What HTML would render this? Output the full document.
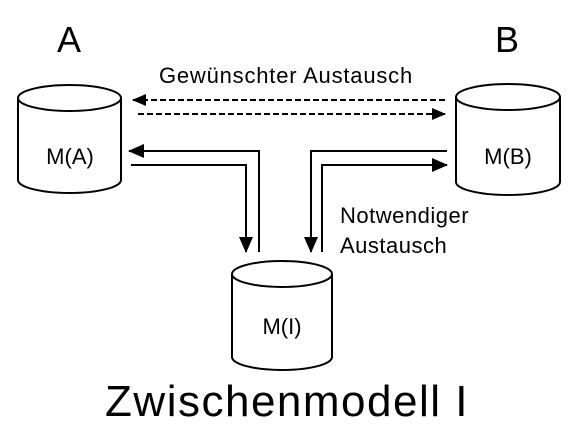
<!DOCTYPE html>
<html><head><style>
body{margin:0;background:#fff;}
svg{display:block;font-family:"Liberation Sans","DejaVu Sans",sans-serif;}
</style></head><body>
<svg width="577" height="436" viewBox="0 0 577 436">
<defs>
<marker id="ah" markerWidth="14" markerHeight="12" refX="13" refY="6" orient="auto" markerUnits="userSpaceOnUse"><path d="M0,0 L14,6 L0,12 Z" fill="#000"/></marker>
<marker id="ab" markerWidth="16" markerHeight="14" refX="15" refY="7" orient="auto" markerUnits="userSpaceOnUse"><path d="M0,0 L16,7 L0,14 Z" fill="#000"/></marker>
</defs>
<g fill="#fff" stroke="#000" stroke-width="2">
<path d="M18,98 L18,180 A51.5,13 0 0 0 121,180 L121,98"/>
<ellipse cx="69.5" cy="98" rx="51.5" ry="13"/>
<path d="M456,97 L456,182 A52,13 0 0 0 560,182 L560,97"/>
<ellipse cx="508" cy="97" rx="52" ry="13"/>
<path d="M232,274 L232,357 A50,13 0 0 0 332,357 L332,274"/>
<ellipse cx="282" cy="274" rx="50" ry="13"/>
</g>
<g stroke="#000" stroke-width="2" fill="none">
<line x1="445" y1="100" x2="133" y2="100" stroke-dasharray="6,3" marker-end="url(#ah)"/>
<line x1="138" y1="114" x2="445" y2="114" stroke-dasharray="6,3" marker-end="url(#ah)"/>
<polyline points="259,252 259,151 129,151" marker-end="url(#ab)"/>
<polyline points="131,165 246,165 246,252" marker-end="url(#ab)"/>
<polyline points="447,151 311,151 311,252" marker-end="url(#ab)"/>
<polyline points="322,252 322,165 447,165" marker-end="url(#ab)"/>
</g>
<g fill="#000">
<text x="69" y="52" font-size="36" text-anchor="middle">A</text>
<text x="507" y="52" font-size="36" text-anchor="middle">B</text>
<text x="286" y="83" font-size="22" letter-spacing="0.8" text-anchor="middle">Gewünschter Austausch</text>
<text x="70" y="164" font-size="22" text-anchor="middle">M(A)</text>
<text x="508" y="164" font-size="22" text-anchor="middle">M(B)</text>
<text x="282" y="334" font-size="22" text-anchor="middle">M(I)</text>
<text x="340" y="223" font-size="22" letter-spacing="0.5">Notwendiger</text>
<text x="340" y="253" font-size="22" letter-spacing="0.5">Austausch</text>
<text x="287" y="416" font-size="44" letter-spacing="1.5" text-anchor="middle">Zwischenmodell I</text>
</g>
</svg>
</body></html>
